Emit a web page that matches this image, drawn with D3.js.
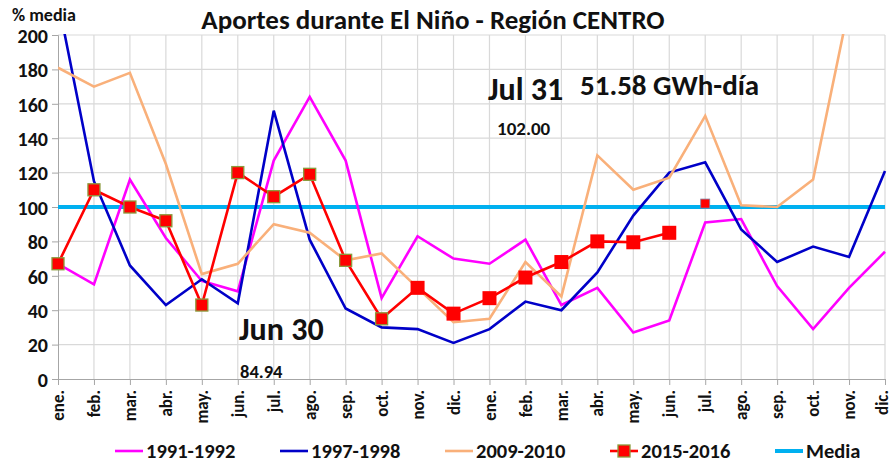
<!DOCTYPE html>
<html>
<head>
<meta charset="utf-8">
<script src="https://cdn.jsdelivr.net/npm/d3@7"></script>
<style>
  body { margin: 0; background: #fff; }
  svg text { font-family: Calibri, Carlito, Lato, sans-serif; font-weight: bold; fill: #111; }
</style>
</head>
<body>
<svg id="chart" width="892" height="463"></svg>
<script>
const months = ['ene.', 'feb.', 'mar.', 'abr.', 'may.', 'jun.', 'jul.', 'ago.', 'sep.', 'oct.', 'nov.', 'dic.',
  'ene.', 'feb.', 'mar.', 'abr.', 'may.', 'jun.', 'jul.', 'ago.', 'sep.', 'oct.', 'nov.', 'dic.']
const yTicks = [0, 20, 40, 60, 80, 100, 120, 140, 160, 180, 200]

const s1991 = [67, 55, 116, 82, 57, 51, 127, 164, 127, 47, 83, 70, 67, 81, 43, 53, 27, 34, 91, 93, 54, 29, 53, 74]
const s1997 = [220, 115, 66, 43, 58, 44, 156, 81, 41, 30, 29, 21, 29, 45, 40, 62, 95, 120, 126, 87, 68, 77, 71, 121]
const s2009 = [181, 170, 178, 125, 61, 67, 90, 85, 69, 73, 53, 33, 35, 68, 48, 130, 110, 117, 153, 101, 100, 116, 217, null]
const s2015 = [67, 110, 100, 92, 43, 120, 106, 119, 69, 35, 53, 38, 47, 59, 68, 80, 79.5, 85, null, null, null, null, null, null]
const lastPoint = { i: 18, v: 102 }
const media = 100

const series = [
  { name: '1991-1992', values: s1991, color: '#ff00ff' },
  { name: '1997-1998', values: s1997, color: '#0000c8' },
  { name: '2009-2010', values: s2009, color: '#f9b07a' },
  { name: '2015-2016', values: s2015, color: '#ff0000', marker: true }
]

const svg = d3.select('#chart')
const x = d3.scaleLinear().domain([0, months.length - 1]).range([58, 885])
const y = d3.scaleLinear().domain([0, 200]).range([379, 35])

// clip for lines above 200
svg.append('clipPath').attr('id', 'plot')
  .append('rect').attr('x', x.range()[0]).attr('y', y(200) - 1)
  .attr('width', x.range()[1] - x.range()[0] + 4).attr('height', y(0) - y(200) + 1)

// grid
const grid = svg.append('g').attr('stroke', '#d9d9d9').attr('stroke-width', 1.2)
grid.selectAll('line.h').data(yTicks.slice(1)).join('line')
  .attr('x1', x.range()[0]).attr('x2', x.range()[1])
  .attr('y1', (d) => y(d)).attr('y2', (d) => y(d))
grid.selectAll('line.v').data(months.slice(1)).join('line')
  .attr('x1', (d, i) => x(i + 1)).attr('x2', (d, i) => x(i + 1))
  .attr('y1', y(200)).attr('y2', y(0))

// axes
const yAxis = svg.append('g').attr('transform', `translate(${x.range()[0]},0)`)
  .call(d3.axisLeft(y).tickValues(yTicks).tickSize(6).tickPadding(4))
yAxis.select('.domain').attr('stroke', '#a6a6a6')
yAxis.selectAll('.tick line').attr('stroke', '#a6a6a6')
yAxis.selectAll('.tick text').style('font-size', '20px').attr('dy', '0.36em')

const xAxis = svg.append('g').attr('transform', `translate(0,${y(0)})`)
  .call(d3.axisBottom(x).tickValues(d3.range(months.length)).tickFormat((i) => months[i]).tickSize(6).tickSizeOuter(0))
xAxis.select('.domain').attr('stroke', '#a6a6a6')
xAxis.selectAll('.tick line').attr('stroke', '#a6a6a6')
xAxis.selectAll('.tick text')
  .style('font-size', '17px')
  .attr('text-anchor', 'end')
  .attr('transform', 'rotate(-90)')
  .attr('x', -11)
  .attr('y', (i) => (i === months.length - 1 ? -3 : 0))
  .attr('dy', '0.33em')

// media line
svg.append('line')
  .attr('x1', x.range()[0]).attr('x2', x.range()[1])
  .attr('y1', y(media)).attr('y2', y(media))
  .attr('stroke', '#00b0f0').attr('stroke-width', 4)

// series lines
const line = d3.line().defined((d) => d != null).x((d, i) => x(i)).y((d) => y(d))
const lines = svg.append('g').attr('clip-path', 'url(#plot)')
lines.selectAll('path').data(series).join('path')
  .attr('fill', 'none')
  .attr('stroke', (d) => d.color)
  .attr('stroke-width', 2.6)
  .attr('stroke-linejoin', 'miter')
  .attr('d', (d) => line(d.values))

// markers 2015-2016
const pts = s2015.map((v, i) => ({ v, i })).filter((d) => d.v != null)
svg.append('g').selectAll('rect').data(pts).join('rect')
  .attr('x', (d) => x(d.i) - (d.i < 10 ? 6 : 7))
  .attr('y', (d) => y(d.v) - (d.i < 10 ? 6 : 7))
  .attr('width', (d) => (d.i < 10 ? 12 : 14))
  .attr('height', (d) => (d.i < 10 ? 12 : 14))
  .attr('fill', '#ff0000')
  .attr('stroke', (d) => (d.i < 10 ? '#8a9a3c' : 'none'))
  .attr('stroke-width', 1.3)
svg.append('rect')
  .attr('x', x(lastPoint.i) - 4.5).attr('y', y(lastPoint.v) - 4.5)
  .attr('width', 9).attr('height', 9)
  .attr('fill', '#ff0000').attr('stroke', '#8080a0').attr('stroke-width', 0.8)

// titles and notes
svg.append('text').attr('x', 433).attr('y', 29).attr('text-anchor', 'middle')
  .style('font-size', '27px').text('Aportes durante El Niño - Región CENTRO')
svg.append('text').attr('x', 12).attr('y', 21).style('font-size', '18px').text('% media')

svg.append('text').attr('x', 488).attr('y', 100).style('font-size', '32px').text('Jul 31')
svg.append('text').attr('x', 497).attr('y', 135).style('font-size', '19px').text('102.00')
svg.append('text').attr('x', 580).attr('y', 95).style('font-size', '29px').text('51.58 GWh-día')
svg.append('text').attr('x', 239).attr('y', 340).style('font-size', '32px').text('Jun 30')
svg.append('text').attr('x', 240).attr('y', 378).style('font-size', '18.5px').text('84.94')

// legend
const legendItems = series.concat([{ name: 'Media', color: '#00b0f0', width: 4 }])
const legend = svg.append('g').attr('transform', 'translate(115,451)')
const item = legend.selectAll('g').data(legendItems).join('g')
  .attr('transform', (d, i) => `translate(${i * 165},0)`)
item.append('line').attr('x1', 0).attr('x2', 28).attr('y1', 0).attr('y2', 0)
  .attr('stroke', (d) => d.color).attr('stroke-width', (d) => d.width || 2.6)
item.filter((d) => d.marker).append('rect')
  .attr('x', 8).attr('y', -6).attr('width', 12).attr('height', 12)
  .attr('fill', '#ff0000').attr('stroke', '#8a9a3c').attr('stroke-width', 1.3)
item.append('text').attr('x', 31).attr('y', 0).attr('dy', '0.36em')
  .style('font-size', '20.5px').text((d) => d.name)
</script>
</body>
</html>
